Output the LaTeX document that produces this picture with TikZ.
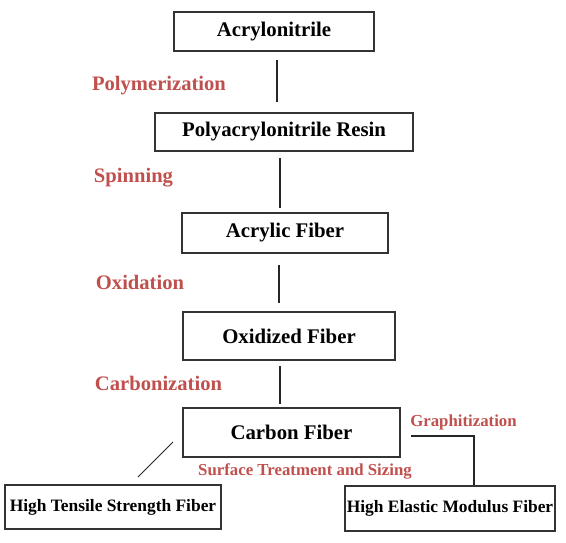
\documentclass[tikz,border=0pt]{standalone}
\usepackage{fontspec}
\setmainfont{Liberation Serif}
\definecolor{lblred}{HTML}{C0504D}
\definecolor{boxline}{HTML}{333333}
\begin{document}
\begin{tikzpicture}[x=1pt,y=-1pt,
  stagebox/.style={draw=boxline,line width=1.3pt,fill=white,inner sep=0pt,font=\bfseries\fontsize{20.8}{24}\selectfont},
  endbox/.style={draw=boxline,line width=1.3pt,fill=white,inner sep=0pt,font=\bfseries\fontsize{17.4}{20}\selectfont},
  steplabel/.style={text=lblred,inner sep=0pt,font=\bfseries\fontsize{20.6}{24}\selectfont},
  smalllabel/.style={text=lblred,inner sep=0pt,font=\bfseries\fontsize{16.8}{20}\selectfont},
  link/.style={draw=black!85,line width=1.1pt}]
\useasboundingbox (0,0) rectangle (566,543);
\node[stagebox,minimum width=200pt,minimum height=39pt] (A) at (274,31.5) {Acrylonitrile};
\node[stagebox,minimum width=258pt,minimum height=38pt] (B) at (284,132) {Polyacrylonitrile Resin};
\node[stagebox,minimum width=206pt,minimum height=40pt] (C) at (285,233) {Acrylic Fiber};
\node[stagebox,minimum width=212pt,minimum height=48pt] (D) at (289,336) {Oxidized Fiber};
\node[stagebox,minimum width=217pt,minimum height=49pt] (E) at (291.5,432.5) {Carbon Fiber};
\node[endbox,minimum width=216pt,minimum height=44pt] (F) at (113,507) {High Tensile Strength Fiber};
\node[endbox,minimum width=210pt,minimum height=45pt] (G) at (450,508.5) {High Elastic Modulus Fiber};

\node[steplabel] (l1) at (159,86) {Polymerization};
\node[steplabel] (l2) at (133.5,178) {Spinning};
\node[steplabel] (l3) at (140,282) {Oxidation};
\node[steplabel] (l4) at (158.5,383) {Carbonization};
\node[smalllabel] (l5) at (463.5,422) {Graphitization};
\node[smalllabel] (l6) at (305,471) {Surface Treatment and Sizing};

\coordinate (x1) at (277,0);
\coordinate (x2) at (280,0);
\coordinate (x3) at (279,0);
\coordinate (x4) at (280,0);
\draw[link,shorten <=8pt,shorten >=10pt] (A.south -| x1) -- (B.north -| x1);
\draw[link,shorten <=6pt,shorten >=4pt] (B.south -| x2) -- (C.north -| x2);
\draw[link,shorten <=11pt,shorten >=8pt] (C.south -| x3) -- (D.north -| x3);
\draw[link,shorten <=5pt,shorten >=3pt] (D.south -| x4) -- (E.north -| x4);
\coordinate (d1) at (173,442);
\coordinate (d2) at (138,477);
\draw[link,line width=0.8pt] (d1) -- (d2);
\coordinate (g1) at (411,436);
\coordinate (g2) at (474,436);
\draw[link] (g1) -- (g2) -- (g2 |- G.north);
\end{tikzpicture}
\end{document}
